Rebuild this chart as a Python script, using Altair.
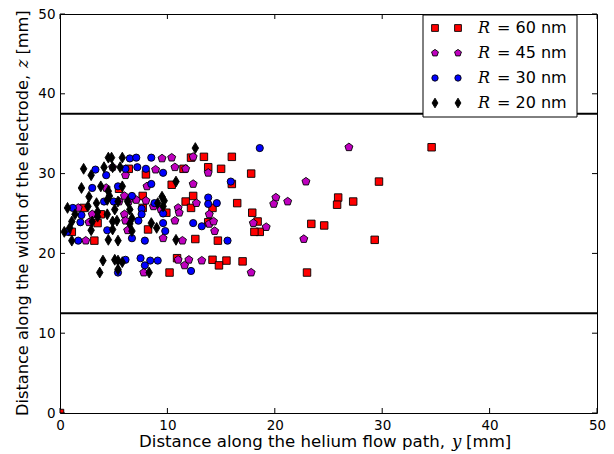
import altair as alt
import pandas as pd

# ---------------- data ----------------
x_ticks = [0, 10, 20, 30, 40, 50]
y_ticks = [0, 10, 20, 30, 40, 50]
electrode_edges = [12.5, 37.5]

# R = 60 nm (red squares): (y, z) in mm
r60_y = [0.0, 34.6, 29.7, 25.9, 25.8, 27.3, 23.4, 24.6, 29.3, 23.0, 18.4, 18.6, 18.1,
         13.4, 16.0, 13.8, 15.0, 17.8, 16.0, 16.5, 14.2, 17.9, 12.4,
         13.8, 14.7, 12.6, 14.2, 15.5, 14.8, 17.0,
         8.0, 12.2, 11.5, 10.4, 6.4, 7.7, 11.7, 12.2, 7.7,
         8.2, 10.2, 9.9, 10.9, 3.5, 3.2, 3.8, 1.1, 2.2, 5.5]
r60_z = [0.0, 33.3, 29.0, 27.0, 26.1, 26.5, 23.7, 23.5, 21.7, 17.6, 24.0, 22.7, 22.7,
         32.1, 32.1, 30.8, 30.6, 30.0, 28.7, 26.3, 25.7, 25.1, 27.2,
         23.9, 21.6, 21.8, 19.2, 19.1, 18.5, 19.0,
         29.9, 32.0, 30.6, 28.6, 30.6, 27.2, 26.5, 25.7, 25.7,
         23.0, 17.6, 25.1, 19.4, 23.8, 21.6, 24.9, 22.7, 25.7, 28.1]

# R = 45 nm (magenta pentagons)
r45_y = [9.5, 10.4, 12.4, 4.9, 6.1, 8.9, 10.7, 11.7, 13.8, 8.1, 12.4, 4.3, 6.0, 7.1, 5.5,
         6.4, 1.7, 8.0, 11.0, 11.1, 12.7, 13.9, 10.7, 13.9, 14.3, 14.4, 9.6, 11.4, 11.0,
         12.0, 11.6, 13.2, 7.8, 17.8, 18.0, 19.2, 3.0, 2.7, 2.4, 6.0, 6.1, 8.7, 9.4, 6.3,
         26.9, 22.9, 20.1, 19.9, 21.2, 22.7]
r45_z = [31.9, 32.0, 32.1, 30.8, 29.8, 30.5, 30.8, 30.6, 30.1, 28.4, 28.7, 28.2, 27.2, 26.7, 26.5,
         26.5, 25.7, 26.6, 25.7, 25.1, 26.3, 24.9, 24.1, 23.7, 24.0, 22.8, 21.9, 21.6, 19.2,
         19.2, 18.5, 19.1, 17.6, 17.6, 23.8, 23.3, 24.9, 23.9, 21.6, 24.9, 24.1, 25.9, 25.5, 22.9,
         33.3, 29.0, 27.0, 26.2, 26.5, 21.8]

# R = 30 nm (blue circles)
r30_y = [3.3, 4.3, 3.0, 1.2, 4.1, 5.0, 5.4, 6.1, 6.5, 7.1, 8.5, 7.2, 8.0, 9.6, 8.5, 6.7,
         7.6, 8.8, 9.6, 2.0, 1.9, 7.6, 7.3, 4.4, 9.8, 9.6, 0.7, 1.7, 6.7, 7.9, 7.5, 8.4,
         9.1, 7.9, 5.4, 6.1, 12.4, 13.2, 13.8, 13.8, 14.6, 15.6, 15.9, 18.6, 12.2]
r30_z = [30.5, 29.8, 28.2, 25.7, 26.5, 26.5, 28.4, 30.6, 31.9, 32.0, 32.0, 30.8, 30.6, 30.1, 28.7, 27.2,
         25.6, 26.3, 25.0, 24.8, 23.9, 24.9, 24.1, 22.9, 22.8, 23.8, 22.7, 21.6, 21.9, 21.6, 19.4, 19.1,
         19.1, 18.5, 17.6, 19.2, 23.8, 23.4, 27.0, 26.2, 26.3, 21.6, 29.0, 33.2, 17.8]

# R = 20 nm (black thin diamonds)
r20_y = [4.5, 4.8, 5.8, 2.2, 2.9, 4.1, 4.9, 5.6, 2.0, 3.8, 5.8, 4.5, 2.7, 3.4, 4.4, 4.6,
         5.4, 6.3, 0.7, 9.5, 9.7, 9.6, 9.1, 1.4, 2.6, 3.5, 4.4, 5.1, 5.3, 6.5, 6.7, 1.1,
         0.9, 3.0, 3.5, 4.9, 6.5, 0.4, 2.9, 4.9, 6.7, 8.5, 9.0, 1.1, 4.5, 5.4, 10.8, 4.0,
         5.1, 5.4, 5.8, 3.7, 5.4, 12.6, 10.8, 8.3]
r20_z = [32.0, 32.0, 32.0, 30.6, 29.8, 30.8, 30.8, 30.8, 28.2, 28.4, 28.4, 27.8, 27.1, 26.3, 26.7, 27.2,
         26.5, 26.5, 25.7, 27.1, 26.6, 25.9, 26.3, 24.9, 25.9, 25.2, 24.9, 25.5, 24.1, 25.5, 24.4, 24.0,
         23.2, 24.0, 24.6, 24.0, 23.7, 22.7, 22.9, 23.0, 22.8, 23.8, 23.2, 21.6, 21.7, 21.6, 21.7, 19.1,
         19.2, 19.1, 18.9, 17.6, 18.0, 33.2, 29.0, 17.6]

series_names = ["60", "45", "30", "20"]
series_fill = ["#ff0000", "#bf00bf", "#0000ff", "#000000"]

x_title_main = "Distance along the helium flow path,"
x_title_var = "y"
y_title_main = "Distance along the width of the electrode,"
y_title_var = "z"
title_unit = "[mm]"
legend_var = "R"
legend_unit = "nm"

# ---------------- layout / style ----------------
W, H = 537, 399
FONT = "DejaVu Sans"
MATH = "DejaVu Serif"
XT_FS = 16.6
YT_FS = 16.2

PENTAGON = "M0,-1L0.951,-0.309L0.588,0.809L-0.588,0.809L-0.951,-0.309Z"
THIN_DIAMOND = "M0,-1L0.6,0L0,1L-0.6,0Z"
shapes = ["square", PENTAGON, "circle", THIN_DIAMOND]
sizes = [56, 70, 52, 118]
legend_sizes = [46, 52, 40, 95]

xs = alt.Scale(domain=[0, 50], nice=False, zero=False)
ys = alt.Scale(domain=[0, 50], nice=False, zero=False)

axis_common = dict(title=None, grid=False, ticks=False, domain=False, labelFont=FONT,
                   labelFontSize=13.5, labelColor="black", labelPadding=5, format="d",
                   labelFlush=False, labelOverlap=False)

layers = []

# electrode edges
edges_df = pd.DataFrame({"z": electrode_edges})
layers.append(
    alt.Chart(edges_df).mark_rule(color="black", strokeWidth=2).encode(
        y=alt.Y("z:Q", scale=ys, axis=alt.Axis(values=y_ticks, **axis_common))
    )
)

all_series = [(r60_y, r60_z), (r45_y, r45_z), (r30_y, r30_z), (r20_y, r20_z)]
for i, (yy, zz) in enumerate(all_series):
    df = pd.DataFrame({"y": yy, "z": zz})
    layers.append(
        alt.Chart(df).mark_point(
            shape=shapes[i], size=sizes[i], filled=True, fill=series_fill[i],
            stroke="black", strokeWidth=0.9, opacity=1, clip=True
        ).encode(
            x=alt.X("y:Q", scale=xs, axis=alt.Axis(values=x_ticks, **axis_common)),
            y=alt.Y("z:Q", scale=ys)
        )
    )

# inward ticks on all four sides
xt = pd.DataFrame({"t": x_ticks})
yt = pd.DataFrame({"t": y_ticks})
TL = 5
layers += [
    alt.Chart(xt).mark_rule(color="black", strokeWidth=1).encode(
        x=alt.X("t:Q", scale=xs), y=alt.value(H), y2=alt.value(H - TL)),
    alt.Chart(xt).mark_rule(color="black", strokeWidth=1).encode(
        x=alt.X("t:Q", scale=xs), y=alt.value(0), y2=alt.value(TL)),
    alt.Chart(yt).mark_rule(color="black", strokeWidth=1).encode(
        y=alt.Y("t:Q", scale=ys), x=alt.value(0), x2=alt.value(TL)),
    alt.Chart(yt).mark_rule(color="black", strokeWidth=1).encode(
        y=alt.Y("t:Q", scale=ys), x=alt.value(W), x2=alt.value(W - TL)),
]

# legend box
one = pd.DataFrame({"a": [0]})
layers.append(
    alt.Chart(one).mark_rect(fill="white", stroke="black", strokeWidth=1).encode(
        x=alt.value(363), x2=alt.value(517), y=alt.value(1), y2=alt.value(103))
)
row_y = [14, 39, 64, 89]
for i in range(4):
    for mx in (375, 398):
        layers.append(
            alt.Chart(one).mark_point(
                shape=shapes[i], size=legend_sizes[i], filled=True, fill=series_fill[i],
                stroke="black", strokeWidth=0.9, opacity=1
            ).encode(x=alt.value(mx), y=alt.value(row_y[i]))
        )
    layers.append(
        alt.Chart(one).mark_text(font=MATH, fontStyle="italic", fontSize=16, align="left",
                                 baseline="middle", color="black").encode(
            x=alt.value(418), y=alt.value(row_y[i]), text=alt.value(legend_var))
    )
    layers.append(
        alt.Chart(one).mark_text(font=FONT, fontSize=16, align="left",
                                 baseline="middle", color="black").encode(
            x=alt.value(437), y=alt.value(row_y[i]),
            text=alt.value(f"= {series_names[i]} {legend_unit}"))
    )

# x-axis title (pieces so that the variable is italic)
XB = H + 34
layers += [
    alt.Chart(one).mark_text(font=FONT, fontSize=XT_FS, align="left", baseline="alphabetic",
                             color="black").encode(x=alt.value(79), y=alt.value(XB),
                                                   text=alt.value(x_title_main)),
    alt.Chart(one).mark_text(font=MATH, fontStyle="italic", fontSize=XT_FS, align="left",
                             baseline="alphabetic", color="black").encode(
        x=alt.value(392), y=alt.value(XB), text=alt.value(x_title_var)),
    alt.Chart(one).mark_text(font=FONT, fontSize=XT_FS, align="left", baseline="alphabetic",
                             color="black").encode(x=alt.value(406), y=alt.value(XB),
                                                   text=alt.value(title_unit)),
]

# y-axis title
YB = -32
layers += [
    alt.Chart(one).mark_text(font=FONT, fontSize=YT_FS, align="left", baseline="alphabetic",
                             angle=270, color="black").encode(
        x=alt.value(YB), y=alt.value(402), text=alt.value(y_title_main)),
    alt.Chart(one).mark_text(font=MATH, fontStyle="italic", fontSize=YT_FS, align="left",
                             baseline="alphabetic", angle=270, color="black").encode(
        x=alt.value(YB), y=alt.value(54), text=alt.value(y_title_var)),
    alt.Chart(one).mark_text(font=FONT, fontSize=YT_FS, align="left", baseline="alphabetic",
                             angle=270, color="black").encode(
        x=alt.value(YB), y=alt.value(40.5), text=alt.value(title_unit)),
]

chart = alt.layer(*layers).properties(
    width=W, height=H,
    autosize=alt.AutoSizeParams(type="none"),
    padding={"left": 52, "top": 6, "right": 9, "bottom": 41},
).configure_view(stroke="black", strokeWidth=1)

chart.save("out.html", embed_options={"renderer": "svg", "actions": False})
